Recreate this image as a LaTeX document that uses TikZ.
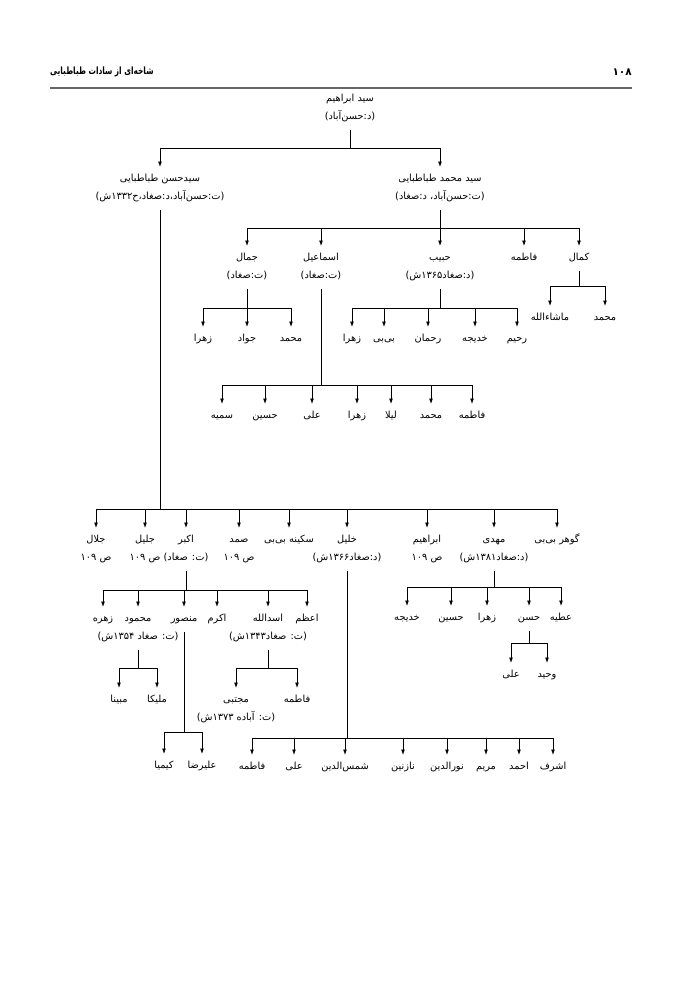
\documentclass[tikz,border=0pt]{standalone}
\usepackage{fontspec}
\usetikzlibrary{arrows.meta}
\TeXXeTstate=1
\newfontfamily\arabicfont[Script=Arabic]{DejaVu Sans}
\newfontfamily\hdrfont[Script=Arabic,FakeStretch=0.74]{DejaVu Sans Bold}
\newcommand{\st}{\rule[-4pt]{0pt}{17pt}}
\newcommand{\fa}[1]{{\arabicfont\st\beginR #1\endR}}
\begin{document}
\begin{tikzpicture}[x=1pt,y=-1pt,
  person/.style={anchor=north,inner sep=1pt,align=center,font=\arabicfont\fontsize{9.8}{18}\selectfont},
  bar/.style={line width=0.9pt,shorten <=6pt},
  arr/.style={line width=0.9pt,-{Latex[length=5.5pt,width=4pt]}},
  hdr/.style={inner sep=0pt,font=\hdrfont\fontsize{10}{12}\selectfont},
]
\useasboundingbox (0,0) rectangle (700,989);
% header
\node[hdr,anchor=west] (title) at (50,72) {\beginR شاخه‌ای از سادات طباطبایی\endR};
\node[hdr,anchor=east,font=\arabicfont\bfseries\fontsize{10.5}{12}\selectfont] (page) at (632,72) {۱۰۸};
\coordinate (rl) at (50,88);
\coordinate (rr) at (632,88);
\draw[line width=1.8pt,black!60] (rl) -- (rr);

% level 0
\node[person] (n0) at (350,87) {\fa{سید ابراهیم}\\\fa{(د:حسن‌آباد)}};
\coordinate (j0) at (350,148);
\node[person] (L) at (160,167) {\fa{سیدحسن طباطبایی}\\\fa{(ت:حسن‌آباد،د:صغاد،ح۱۳۳۲ش)}};
\node[person] (R) at (440,167) {\fa{سید محمد طباطبایی}\\\fa{(ت:حسن‌آباد، د:صغاد)}};
\draw[bar] (n0.south) -- (j0);
\foreach \c in {L,R} \draw[arr] (j0) -| (\c.north);

% children of R
\coordinate (j1) at (440,228);
\node[person] (a1) at (247,246) {\fa{جمال}\\\fa{(ت:صغاد)}};
\node[person] (a2) at (321,246) {\fa{اسماعیل}\\\fa{(ت:صغاد)}};
\node[person] (a3) at (440,246) {\fa{حبیب}\\\fa{(د:صغاد۱۳۶۵ش)}};
\node[person] (a4) at (524,246) {\fa{فاطمه}};
\node[person] (a5) at (579,246) {\fa{کمال}};
\draw[bar] (R.south) -- (j1);
\foreach \c in {a1,a2,a3,a4,a5} \draw[arr] (j1) -| (\c.north);

% kamal
\coordinate (jk) at (579,286);
\node[person] (k1) at (550,306) {\fa{ماشاءالله}};
\node[person] (k2) at (605,306) {\fa{محمد}};
\draw[bar] (a5.south) -- (jk);
\foreach \c in {k1,k2} \draw[arr] (jk) -| (\c.north);

% jamal
\coordinate (jj) at (247,308);
\node[person] (m1) at (203,327) {\fa{زهرا}};
\node[person] (m2) at (247,327) {\fa{جواد}};
\node[person] (m3) at (291,327) {\fa{محمد}};
\draw[bar] (a1.south) -- (jj);
\foreach \c in {m1,m2,m3} \draw[arr] (jj) -| (\c.north);

% habib
\coordinate (jh) at (440,308);
\node[person] (h1) at (352,327) {\fa{زهرا}};
\node[person] (h2) at (384,327) {\fa{بی‌بی}};
\node[person] (h3) at (428,327) {\fa{رحمان}};
\node[person] (h4) at (475,327) {\fa{خدیجه}};
\node[person] (h5) at (517,327) {\fa{رحیم}};
\draw[bar] (a3.south) -- (jh);
\foreach \c in {h1,h2,h3,h4,h5} \draw[arr] (jh) -| (\c.north);

% esmail
\coordinate (je) at (321,385);
\node[person] (e1) at (222,404) {\fa{سمیه}};
\node[person] (e2) at (265,404) {\fa{حسین}};
\node[person] (e3) at (312,404) {\fa{علی}};
\node[person] (e4) at (357,404) {\fa{زهرا}};
\node[person] (e5) at (391,404) {\fa{لیلا}};
\node[person] (e6) at (431,404) {\fa{محمد}};
\node[person] (e7) at (472,404) {\fa{فاطمه}};
\draw[bar] (a2.south) -- (je);
\foreach \c in {e1,e2,e3,e4,e5,e6,e7} \draw[arr] (je) -| (\c.north);

% children of L
\coordinate (j2) at (160,509);
\node[person] (b1) at (96,528) {\fa{جلال}\\\fa{ص ۱۰۹}};
\node[person] (b2) at (145,528) {\fa{جلیل}\\\fa{ص ۱۰۹}};
\node[person] (b3) at (186,528) {\fa{اکبر}\\\fa{(ت: صغاد)}};
\node[person] (b4) at (239,528) {\fa{صمد}\\\fa{ص ۱۰۹}};
\node[person] (b5) at (289,528) {\fa{سکینه بی‌بی}};
\node[person] (b6) at (347,528) {\fa{خلیل}\\\fa{(د:صغاد۱۳۶۶ش)}};
\node[person] (b7) at (427,528) {\fa{ابراهیم}\\\fa{ص ۱۰۹}};
\node[person] (b8) at (494,528) {\fa{مهدی}\\\fa{(د:صغاد۱۳۸۱ش)}};
\node[person] (b9) at (557,528) {\fa{گوهر بی‌بی}};
\draw[bar] (L.south) -- (j2);
\foreach \c in {b1,b2,b3,b4,b5,b6,b7,b8,b9} \draw[arr] (j2) -| (\c.north);

% akbar
\coordinate (jak) at (186,590);
\node[person] (c1) at (103,607) {\fa{زهره}};
\node[person] (c2) at (138,607) {\fa{محمود}\\\fa{(ت: صغاد ۱۳۵۴ش)}};
\node[person] (c3) at (184,607) {\fa{منصور}};
\node[person] (c4) at (217,607) {\fa{اکرم}};
\node[person] (c5) at (268,607) {\fa{اسدالله}\\\fa{(ت: صغاد۱۳۴۳ش)}};
\node[person] (c6) at (307,607) {\fa{اعظم}};
\draw[bar] (b3.south) -- (jak);
\foreach \c in {c1,c2,c3,c4,c5,c6} \draw[arr] (jak) -| (\c.north);

% mahmoud
\coordinate (jmh) at (138,668);
\node[person] (d1) at (119,688) {\fa{مبینا}};
\node[person] (d2) at (157,688) {\fa{ملیکا}};
\draw[bar] (c2.south) -- (jmh);
\foreach \c in {d1,d2} \draw[arr] (jmh) -| (\c.north);

% mansour
\coordinate (jms) at (184,732);
\node[person] (f1) at (164,754) {\fa{کیمیا}};
\node[person] (f2) at (202,754) {\fa{علیرضا}};
\draw[bar] (c3.south) -- (jms);
\foreach \c in {f1,f2} \draw[arr] (jms) -| (\c.north);

% asadollah
\coordinate (jas) at (268,668);
\node[person] (g1) at (236,688) {\fa{مجتبی}\\\fa{(ت: آباده ۱۳۷۳ش)}};
\node[person] (g2) at (297,688) {\fa{فاطمه}};
\draw[bar] (c5.south) -- (jas);
\foreach \c in {g1,g2} \draw[arr] (jas) -| (\c.north);

% khalil
\coordinate (jkh) at (347,738);
\node[person] (p1) at (252,755) {\fa{فاطمه}};
\node[person] (p2) at (294,755) {\fa{علی}};
\node[person] (p3) at (345,755) {\fa{شمس‌الدین}};
\node[person] (p4) at (403,755) {\fa{نازنین}};
\node[person] (p5) at (447,755) {\fa{نورالدین}};
\node[person] (p6) at (486,755) {\fa{مریم}};
\node[person] (p7) at (519,755) {\fa{احمد}};
\node[person] (p8) at (553,755) {\fa{اشرف}};
\draw[bar] (b6.south) -- (jkh);
\foreach \c in {p1,p2,p3,p4,p5,p6,p7,p8} \draw[arr] (jkh) -| (\c.north);

% mahdi
\coordinate (jmd) at (494,587);
\node[person] (q1) at (407,606) {\fa{خدیجه}};
\node[person] (q2) at (451,606) {\fa{حسین}};
\node[person] (q3) at (487,606) {\fa{زهرا}};
\node[person] (q4) at (529,606) {\fa{حسن}};
\node[person] (q5) at (561,606) {\fa{عطیه}};
\draw[bar] (b8.south) -- (jmd);
\foreach \c in {q1,q2,q3,q4,q5} \draw[arr] (jmd) -| (\c.north);

% hasan
\coordinate (jhs) at (529,643);
\node[person] (r1) at (511,663) {\fa{علی}};
\node[person] (r2) at (547,663) {\fa{وحید}};
\draw[bar] (q4.south) -- (jhs);
\foreach \c in {r1,r2} \draw[arr] (jhs) -| (\c.north);
\end{tikzpicture}
\end{document}
